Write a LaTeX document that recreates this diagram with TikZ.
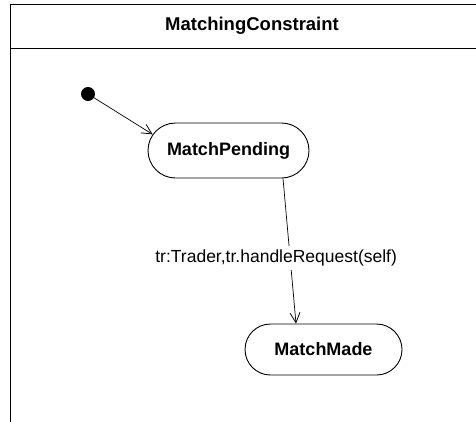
\documentclass[tikz,border=0pt]{standalone}
\usepackage{fontspec}
\setmainfont{Liberation Sans}
\usetikzlibrary{shapes.misc,arrows.meta}
\begin{document}
\begin{tikzpicture}[x=1pt,y=-1pt,
  line width=0.9pt,
  statebox/.style={draw, rounded rectangle, inner sep=0pt,
    font=\fontsize{18}{21}\selectfont\bfseries},
  initdot/.style={circle, fill=black, draw=black, inner sep=0pt, minimum size=13pt},
  trans/.style={-{Straight Barb[length=10pt,width=10pt,line width=0.8pt]}, line width=0.7pt},
  guard/.style={fill=white, inner sep=4pt, font=\fontsize{17.5}{20}\selectfont}
]
\useasboundingbox (0,0) rectangle (476,421);
\clip (0,0) rectangle (476,421);
% enclosing region with its name compartment
\draw (10,4) rectangle (490,440);
\draw (10,48) -- (490,48);
\node[font=\fontsize{18.5}{22}\selectfont\bfseries] (title) at (252,26) {MatchingConstraint};
% states
\node[initdot] (start) at (88,94) {};
\node[statebox, minimum width=161pt, minimum height=55pt] (mp) at (228.5,150.5) {MatchPending};
\node[statebox, minimum width=157pt, minimum height=51pt] (mm) at (323.5,349.5) {MatchMade};
% transitions
\draw[trans] (start) -- (mp.168);
\draw[trans] ([xshift=54.5pt]mp.south) -- ([xshift=-27.5pt]mm.north)
  node[guard, pos=0.55, xshift=-14pt] {tr:Trader,tr.handleRequest(self)};
\end{tikzpicture}
\end{document}
